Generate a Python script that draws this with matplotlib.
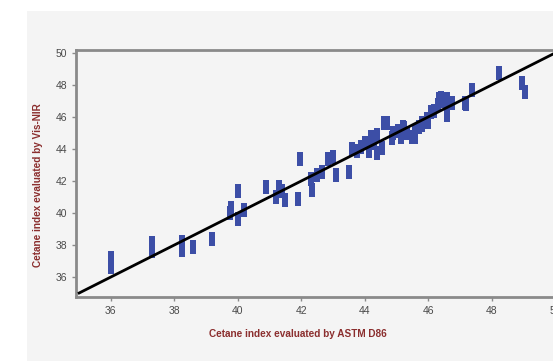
import matplotlib
matplotlib.use('Agg')
import matplotlib.pyplot as plt
from matplotlib.patches import Rectangle

# measured cetane index (ASTM D86) vs predicted (Vis-NIR)
astm = [36.0, 36.0, 37.3, 37.3, 38.25, 38.25, 38.6, 39.2,
        39.75, 39.8, 40.0, 40.0, 40.2, 40.9, 41.2, 41.3, 41.4, 41.5,
        41.9, 41.95, 42.3, 42.35, 42.5, 42.65, 42.85, 43.0, 43.1, 43.5,
        43.6, 43.9, 44.0, 44.15, 44.2, 44.4, 44.4, 44.55, 44.6, 44.7,
        44.85, 45.05, 45.15, 45.2, 45.25, 45.5, 45.6, 45.6, 45.8, 45.8,
        46.0, 46.1, 46.3, 46.35, 46.4, 46.6, 46.6, 46.75, 47.15, 47.2,
        47.4, 48.25, 48.95, 49.05,
        43.75, 44.3, 44.9, 45.35, 45.7, 45.95, 46.2, 46.5]
visnir = [36.6, 37.2, 37.6, 38.1, 37.7, 38.2, 37.9, 38.4,
          40.0, 40.3, 41.4, 39.6, 40.2, 41.6, 41.0, 41.6, 41.4, 40.8,
          40.9, 43.4, 42.1, 41.45, 42.4, 42.55, 43.4, 43.5, 42.4, 42.55,
          44.0, 44.1, 44.4, 43.9, 44.75, 44.9, 43.75, 44.05, 45.6, 45.6,
          44.7, 45.1, 44.75, 45.4, 45.3, 44.75, 45.1, 44.75, 45.6, 45.5,
          45.7, 46.3, 46.75, 47.1, 47.2, 47.1, 46.1, 46.9, 46.9, 46.8,
          47.7, 48.75, 48.1, 47.55,
          43.9, 44.4, 45.0, 45.0, 45.4, 45.9, 46.4, 47.0]

# reference line
line_x = [35.0, 51.0]
line_y = [35.0, 51.0]

xticks = [36, 38, 40, 42, 44, 46, 48, 50]
yticks = [36, 38, 40, 42, 44, 46, 48, 50]

plt.rcParams['font.family'] = ['Liberation Sans', 'DejaVu Sans']

W, H = 553, 361
fig = plt.figure(figsize=(W / 100, H / 100), dpi=100)
fig.patch.set_facecolor('white')
panel_bg = '#f4f4f4'
fig.add_artist(Rectangle((27 / W, 0), 1, 1 - 11 / H, transform=fig.transFigure,
                         facecolor=panel_bg, edgecolor='none', zorder=0))

ax = fig.add_axes([76 / W, 64 / H, 498 / W, 247 / H])
ax.set_facecolor(panel_bg)

bar = [(-0.48, -1), (0.48, -1), (0.48, 1), (-0.48, 1), (-0.48, -1)]
ax.plot(astm, visnir, ls='None', marker=bar, markersize=9.5,
        color='#3c4ea6', markeredgewidth=0, zorder=3)
ax.plot(line_x, line_y, color='black', lw=2, zorder=4)

ax.set_xlim(34.9, 50.6)
ax.set_ylim(34.75, 50.19)
ax.set_xticks(xticks)
ax.set_yticks(yticks)

for s in ['left', 'bottom', 'top', 'right']:
    ax.spines[s].set_color('#8a8a8a')
    ax.spines[s].set_linewidth(2)
ax.tick_params(colors='#8a8a8a', labelcolor='#4a4a4a', labelsize=7.5,
               length=3, width=1)

lab = dict(color='#8b2e2e', fontsize=7.2, fontweight='bold')
ax.set_xlabel('Cetane index evaluated by ASTM D86', **lab)
ax.set_ylabel('Cetane index evaluated by Vis-NIR', **lab)
ax.xaxis.set_label_coords(0.446, -0.13)
ax.yaxis.set_label_coords(-0.066, 0.453)

plt.savefig('out.png', dpi=100)
